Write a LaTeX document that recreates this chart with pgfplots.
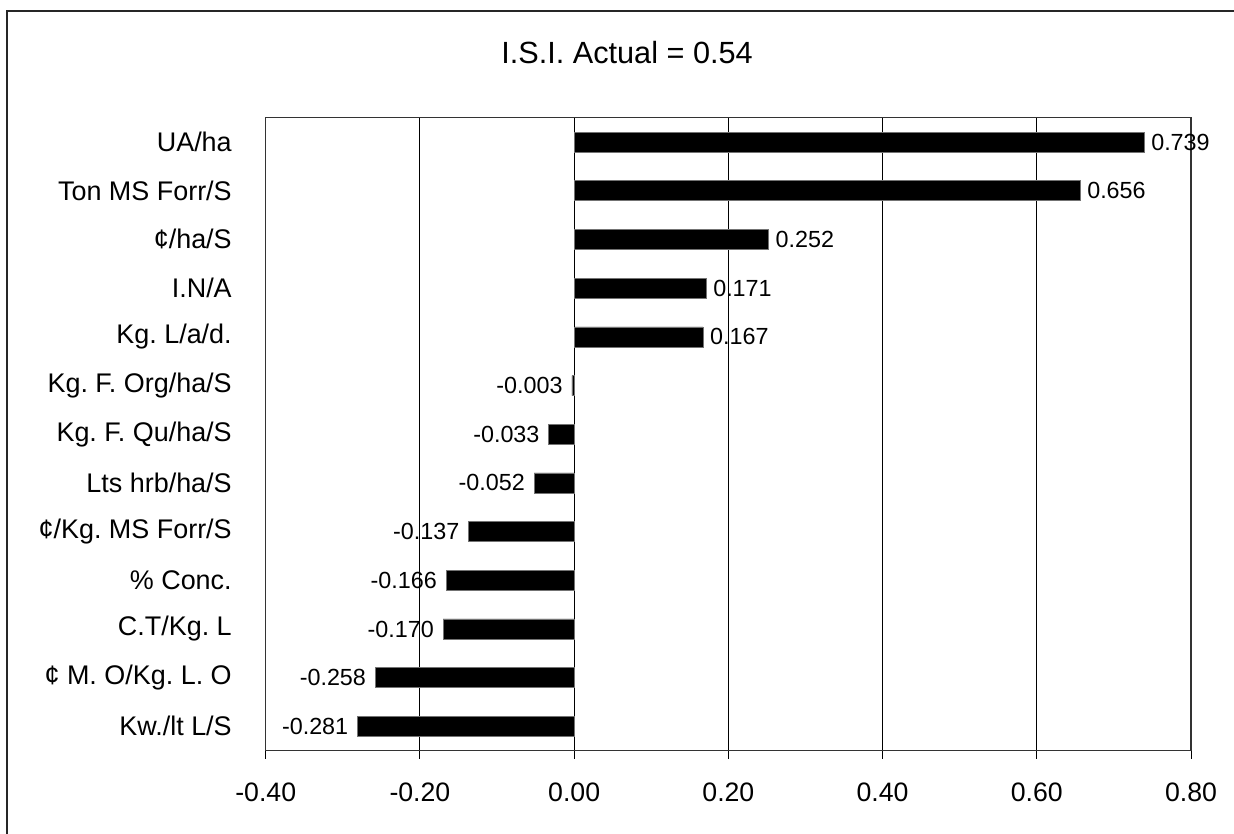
\documentclass[border=0pt]{standalone}
\usepackage{fontspec}
\setmainfont{Liberation Sans}
\usepackage{pgfplots}
\pgfplotsset{compat=1.18}
\begin{document}
\frenchspacing
\begin{tikzpicture}[x=0.75pt,y=0.75pt]
\useasboundingbox (0,0) rectangle (1234,833);
\draw[black!85, line width=1.5pt] (7,822) rectangle (1250,-20);
\node[font=\fontsize{23}{27}\selectfont, inner sep=0pt] at (627,780) {I.S.I. Actual = 0.54};
\begin{axis}[
  at={(199.275pt,61.725pt)}, anchor=south west,
  scale only axis, width=694pt, height=474.75pt,
  xmin=-0.4, xmax=0.8, ymin=0.5, ymax=13.5,
  xbar, bar width=15pt, bar shift=0pt,
  clip=false,
  axis line style={black!80, line width=0.9pt},
  xmajorgrids, major grid style={black, line width=0.75pt},
  tick align=outside, major tick length=6pt,
  xtick pos=bottom, ytick pos=left,
  xtick style={black, line width=0.75pt},
  ytick style={draw=none},
  xtick={-0.4,-0.2,0,0.2,0.4,0.6,0.8},
  xticklabels={-0.40,-0.20,0.00,0.20,0.40,0.60,0.80},
  ytick={1,2,3,4,5,6,7,8,9,10,11,12,13},
  yticklabels={Kw./lt L/S, ¢ M. O/Kg. L. O, C.T/Kg. L, \% Conc., ¢/Kg. MS Forr/S, Lts hrb/ha/S, Kg. F. Qu/ha/S, Kg. F. Org/ha/S, Kg. L/a/d., I.N/A, ¢/ha/S, Ton MS Forr/S, UA/ha},
  x tick label style={font=\fontsize{20}{24}\selectfont, anchor=base, inner sep=0pt, yshift=-32.25pt},
  y tick label style={font=\fontsize{20.2}{24}\selectfont, anchor=east, inner sep=0pt, xshift=-19.3pt},
  point meta=explicit symbolic,
]
\addplot[fill=black, draw=black!55, line width=0.4pt, bar shift=0pt,
  nodes near coords,
  every node near coord/.append style={anchor=west, inner sep=0pt, xshift=5.25pt, font=\fontsize{17.5}{21}\selectfont, text=black}]
  coordinates {
  (0.739,13) [0.739]
  (0.656,12) [0.656]
  (0.252,11) [0.252]
  (0.171,10) [0.171]
  (0.167,9) [0.167]
  };
\addplot[fill=black, draw=black!55, line width=0.4pt, bar shift=0pt,
  nodes near coords,
  every node near coord/.append style={anchor=east, inner sep=0pt, xshift=-6.75pt, font=\fontsize{17.5}{21}\selectfont, text=black}]
  coordinates {
  (-0.003,8) [-0.003]
  (-0.033,7) [-0.033]
  (-0.052,6) [-0.052]
  (-0.137,5) [-0.137]
  (-0.166,4) [-0.166]
  (-0.170,3) [-0.170]
  (-0.258,2) [-0.258]
  (-0.281,1) [-0.281]
  };
\end{axis}
\end{tikzpicture}
\end{document}
